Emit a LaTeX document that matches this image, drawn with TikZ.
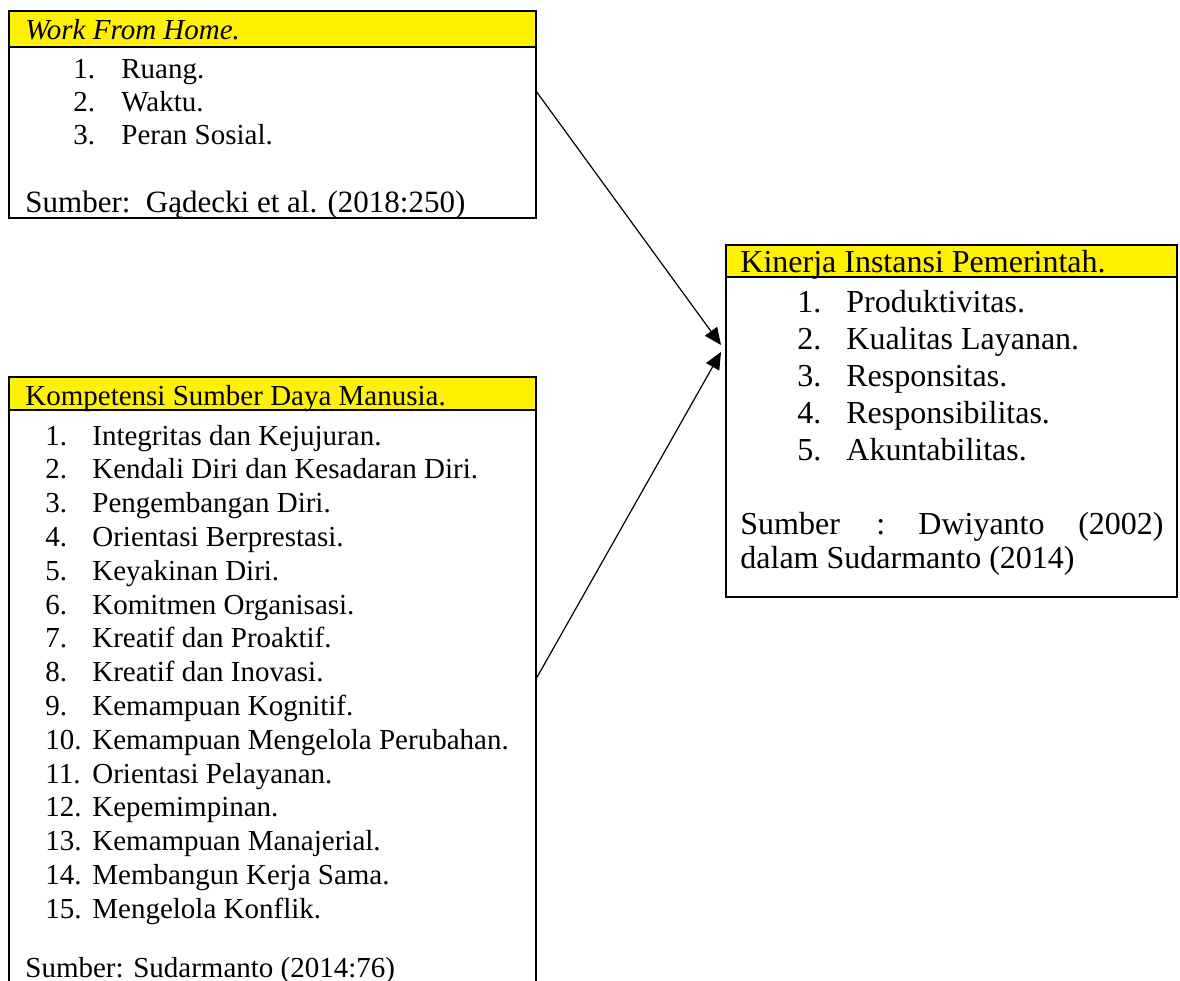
\documentclass[tikz,border=0pt]{standalone}
\usepackage{fontspec}
\setmainfont{Liberation Serif}
\usetikzlibrary{arrows.meta,calc}
\begin{document}
\begin{tikzpicture}[x=0.5pt,y=-0.5pt,
  frame/.style={draw,line width=1pt,anchor=north west,inner sep=0pt,outer sep=0pt},
  head/.style={fill=yellow,draw,line width=1pt,anchor=north west,inner sep=0pt,outer sep=0pt},
  ltxt/.style={anchor=base west,inner sep=0pt,font=\fontsize{14.5}{17}\selectfont},
  rtxt/.style={anchor=base west,inner sep=0pt,font=\fontsize{16}{19}\selectfont},
  arr/.style={line width=0.6pt,-{Triangle[length=8.5pt,width=7.5pt]}}]
\clip (0,0) rectangle (1180,981);
% ---------- Work From Home box
\node[frame,minimum width=263.5pt,minimum height=103.5pt] (wfh) at (9,11) {};
\node[head,minimum width=263.5pt,minimum height=18pt] (wfhh) at (9,11) {};
\node[ltxt] (wfht) at (25,39) {\itshape Work From Home.};
\foreach \n/\t [count=\i from 0] in {1/Ruang.,2/Waktu.,3/Peran Sosial.}{
  \node[ltxt] (wn\n) at (73,{78+33*\i}) {\n.};
  \node[ltxt] (wt\n) at (121,{78+33*\i}) {\t};
}
\node[ltxt,font=\fontsize{15.5}{18}\selectfont] (wfhs) at (25,212) {Sumber:\ \ Gądecki et al. (2018:250)};
% ---------- Kompetensi box
\node[frame,minimum width=263.5pt,minimum height=316.5pt] (ksdm) at (9,377) {};
\node[head,minimum width=263.5pt,minimum height=16.5pt] (ksdmh) at (9,377) {};
\node[ltxt] (ksdmt) at (25,405) {Kompetensi Sumber Daya Manusia.};
\foreach \n/\t [count=\i from 0] in {
  1/Integritas dan Kejujuran.,
  2/Kendali Diri dan Kesadaran Diri.,
  3/Pengembangan Diri.,
  4/Orientasi Berprestasi.,
  5/Keyakinan Diri.,
  6/Komitmen Organisasi.,
  7/Kreatif dan Proaktif.,
  8/Kreatif dan Inovasi.,
  9/Kemampuan Kognitif.,
  10/Kemampuan Mengelola Perubahan.,
  11/Orientasi Pelayanan.,
  12/Kepemimpinan.,
  13/Kemampuan Manajerial.,
  14/Membangun Kerja Sama.,
  15/Mengelola Konflik.}{
  \node[ltxt] (kn\n) at (45,{445+33.8*\i}) {\n.};
  \node[ltxt] (kt\n) at (92,{445+33.8*\i}) {\t};
}
\node[ltxt] (ksdms) at (25,977) {Sumber: Sudarmanto (2014:76)};
% ---------- Kinerja box
\node[frame,minimum width=225.5pt,minimum height=176pt] (kip) at (726,245) {};
\node[head,minimum width=225.5pt,minimum height=16pt] (kiph) at (726,245) {};
\node[rtxt] (kipt) at (740,272) {Kinerja Instansi Pemerintah.};
\foreach \n/\t [count=\i from 0] in {1/Produktivitas.,2/Kualitas Layanan.,3/Responsitas.,4/Responsibilitas.,5/Akuntabilitas.}{
  \node[rtxt] (rn\n) at (797,{312+37.2*\i}) {\n.};
  \node[rtxt] (rt\n) at (846,{312+37.2*\i}) {\t};
}
\node[rtxt] (rs1) at (740,534) {Sumber};
\node[rtxt] (rs2) at (876,534) {:};
\node[rtxt] (rs3) at (918,534) {Dwiyanto};
\node[rtxt,anchor=base east] (rs4) at (1164,534) {(2002)};
\node[rtxt] (rs5) at (740,568) {dalam Sudarmanto (2014)};
% ---------- connectors
\coordinate (s1) at ($(wfh.north east)+(0,80)$);
\coordinate (t1) at ($(kip.north west)+(-5,100)$);
\coordinate (s2) at ($(ksdm.north east)+(0,302)$);
\coordinate (t2) at ($(kip.north west)+(-5,107)$);
\draw[arr] (s1) -- (t1);
\draw[arr] (s2) -- (t2);
\end{tikzpicture}
\end{document}
